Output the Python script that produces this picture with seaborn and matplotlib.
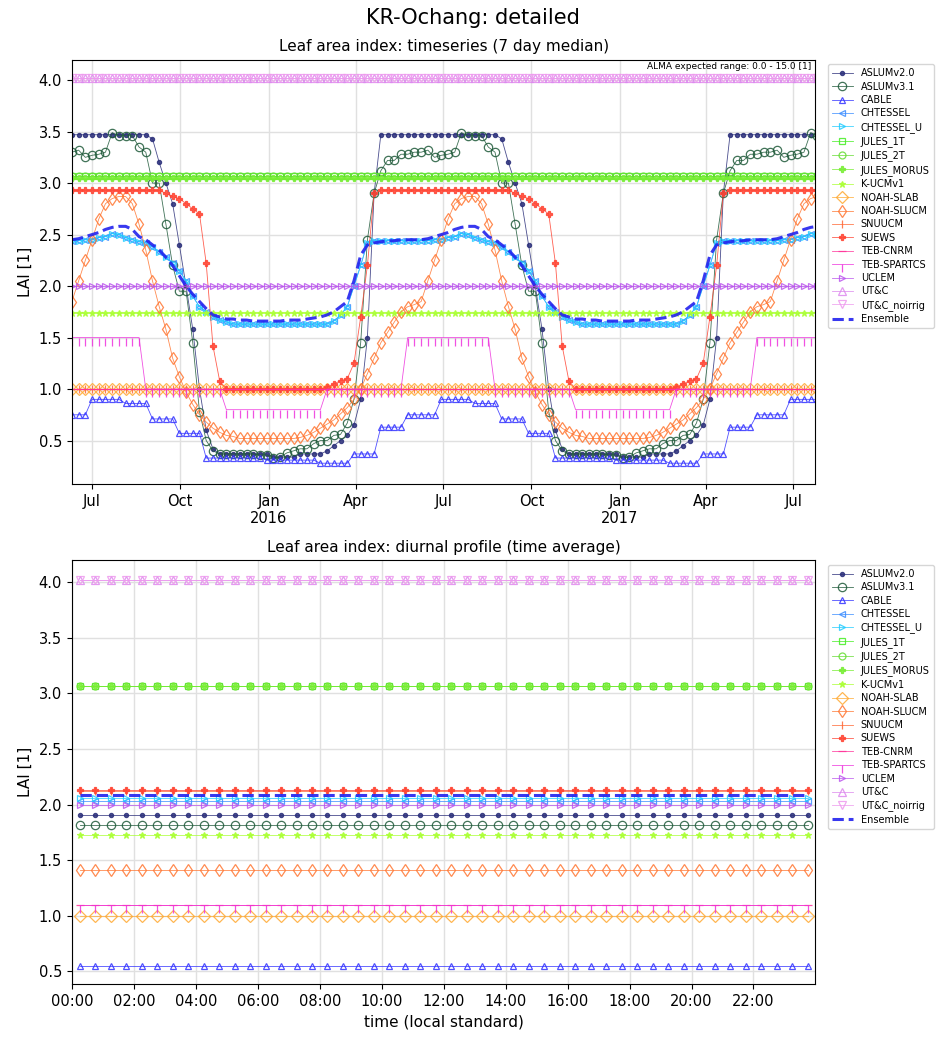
import numpy as np
import pandas as pd
import seaborn as sns
import matplotlib
matplotlib.use('Agg')
import matplotlib.pyplot as plt
import matplotlib.dates as mdates

# weekly annual cycle, week 0 = 10 June, repeated each year
aslum20 = [3.47]*12 + [3.43, 3.2, 3.0, 2.8, 2.4, 2.0, 1.58, 1.0, 0.6, 0.42] + [0.37]*8 + \
          [0.34]*4 + [0.37]*4 + [0.4, 0.45, 0.5, 0.55, 0.65, 0.9, 1.5, 2.9] + [3.47]*6
aslum31 = [3.30, 3.32, 3.25, 3.27, 3.28, 3.30, 3.49, 3.46, 3.46, 3.46, 3.35, 3.30, 3.0, 3.0,
           2.6, 2.2, 1.95, 1.95, 1.45, 0.78, 0.5, 0.4, 0.37, 0.37, 0.37, 0.37, 0.37, 0.37,
           0.36, 0.36, 0.33, 0.34, 0.38, 0.4, 0.42, 0.42, 0.47, 0.5, 0.5, 0.55, 0.56, 0.67,
           0.9, 1.45, 2.45, 2.9, 3.12, 3.22, 3.22, 3.28, 3.28, 3.3]
cable = [0.75]*3 + [0.9]*5 + [0.86]*4 + [0.71]*4 + [0.57]*4 + [0.33]*9 + [0.31]*8 + \
        [0.28]*5 + [0.37]*4 + [0.63]*4 + [0.75]*2
chtessel = [2.44, 2.44, 2.45, 2.45, 2.47, 2.48, 2.51, 2.5, 2.47, 2.45, 2.43, 2.42, 2.38, 2.33,
            2.28, 2.22, 2.15, 2.05, 1.9, 1.8, 1.75, 1.7, 1.67, 1.65] + [1.63]*15 + \
           [1.66, 1.72, 1.8, 2.0, 2.2, 2.42] + [2.44]*7
ensemble = [2.45, 2.46, 2.48, 2.5, 2.52, 2.55, 2.57, 2.58, 2.58, 2.55, 2.48, 2.45, 2.4, 2.35,
            2.28, 2.2, 2.1, 2.0, 1.92, 1.85, 1.78, 1.72, 1.7, 1.68, 1.68, 1.67, 1.67, 1.66,
            1.66, 1.66, 1.66, 1.66, 1.67, 1.67, 1.67, 1.68, 1.69, 1.7, 1.72, 1.75, 1.8, 1.85,
            2.05, 2.3, 2.4, 2.42, 2.43, 2.44, 2.44, 2.45, 2.45, 2.45]
noah_slucm = [1.85, 2.05, 2.25, 2.45, 2.65, 2.8, 2.85, 2.87, 2.87, 2.8, 2.6, 2.35, 2.05, 1.8,
              1.58, 1.3, 1.12, 0.97, 0.85, 0.75, 0.68, 0.62, 0.58, 0.55, 0.54] + [0.52]*9 + \
             [0.53, 0.55, 0.58, 0.62, 0.66, 0.7, 0.76, 0.82, 0.9, 1.0, 1.15, 1.3, 1.45, 1.55,
              1.65, 1.75, 1.8, 1.82]
suews = [2.93]*14 + [2.9, 2.87, 2.85, 2.8, 2.75, 2.7, 2.22, 1.42, 1.08] + [1.0]*15 + \
        [1.02, 1.05, 1.08, 1.1, 1.25, 1.7, 2.2, 2.9] + [2.93]*6
teb_spartcs = [1.5]*11 + [1.0]*12 + [0.8]*15 + [1.0]*12 + [1.5]*2

# constant models (time series)
jules_1t, jules_2t, jules_morus = 3.07, 3.07, 3.05
kucm, noah_slab, snuucm, teb_cnrm = 1.74, 1.0, 1.0, 1.0
uclem, utc, utc_noirrig = 2.0, 4.02, 4.02

# diurnal averages
d_vals = {'ASLUMv2.0': 1.91, 'ASLUMv3.1': 1.82, 'CABLE': 0.55, 'CHTESSEL': 2.03,
          'CHTESSEL_U': 2.06, 'JULES_1T': 3.07, 'JULES_2T': 3.07, 'JULES_MORUS': 3.07,
          'K-UCMv1': 1.73, 'NOAH-SLAB': 1.0, 'NOAH-SLUCM': 1.41, 'SNUUCM': 2.12,
          'SUEWS': 2.13, 'TEB-CNRM': 1.1, 'TEB-SPARTCS': 1.1, 'UCLEM': 2.0,
          'UT&C': 4.02, 'UT&C_noirrig': 4.02, 'Ensemble': 2.09}

styles = {
    'ASLUMv2.0': ('#2b2f7a', 'o', 3),
    'ASLUMv3.1': ('#1f5a3a', 'o', 6),
    'CABLE': ('#3333ff', '^', 5),
    'CHTESSEL': ('#3a8cff', '<', 5),
    'CHTESSEL_U': ('#22ccff', '>', 5),
    'JULES_1T': ('#44ee22', 's', 5),
    'JULES_2T': ('#66dd33', 'o', 5),
    'JULES_MORUS': ('#77ee33', 'P', 5),
    'K-UCMv1': ('#aaff33', '*', 5),
    'NOAH-SLAB': ('#ffaa33', 'D', 6),
    'NOAH-SLUCM': ('#ff7733', 'd', 6),
    'SNUUCM': ('#ff6633', '|', 6),
    'SUEWS': ('#ff4433', 'P', 5),
    'TEB-CNRM': ('#ff3399', '_', 6),
    'TEB-SPARTCS': ('#ee33dd', 3, 6),
    'UCLEM': ('#bb55ee', '>', 4),
    'UT&C': ('#dd88ee', '^', 6),
    'UT&C_noirrig': ('#ee99ee', 'v', 6),
}
filled = ('SUEWS', 'JULES_MORUS', 'K-UCMv1', 'ASLUMv2.0')

n = 112
dates = pd.date_range('2015-06-10', periods=n, freq='7D')
def cyc(v):
    if np.isscalar(v):
        return np.full(n, v)
    return np.tile(v, 3)[:n]

ts = {'ASLUMv2.0': aslum20, 'ASLUMv3.1': aslum31, 'CABLE': cable, 'CHTESSEL': chtessel,
      'CHTESSEL_U': chtessel, 'JULES_1T': jules_1t, 'JULES_2T': jules_2t,
      'JULES_MORUS': jules_morus, 'K-UCMv1': kucm, 'NOAH-SLAB': noah_slab,
      'NOAH-SLUCM': noah_slucm, 'SNUUCM': snuucm, 'SUEWS': suews, 'TEB-CNRM': teb_cnrm,
      'TEB-SPARTCS': teb_spartcs, 'UCLEM': uclem, 'UT&C': utc, 'UT&C_noirrig': utc_noirrig}

plt.rcParams['font.family'] = ['DejaVu Sans']
fig, (ax1, ax2) = plt.subplots(2, 1, figsize=(9.46, 10.44), dpi=100)
fig.subplots_adjust(left=0.076, right=0.862, top=0.943, bottom=0.057, hspace=0.18)
hours = np.arange(0.25, 24, 0.5)

def style_last(ax, col, mk, ms, fill):
    ln = ax.lines[-1]
    ln.set_marker(mk)
    ln.set_markersize(ms)
    ln.set_markeredgecolor(col)
    ln.set_markeredgewidth(0.9)
    ln.set_markerfacecolor(col if fill else 'none')
    ln.set_linewidth(0.6)
    ln.set_alpha(0.85)

for name, (col, mk, ms) in styles.items():
    sns.lineplot(x=dates, y=cyc(ts[name]), ax=ax1, color=col, label=name)
    style_last(ax1, col, mk, ms, name in filled)
    sns.lineplot(x=hours, y=np.full(len(hours), d_vals[name]), ax=ax2, color=col, label=name)
    style_last(ax2, col, mk, ms, name in filled)

sns.lineplot(x=dates, y=cyc(ensemble), ax=ax1, color='#2222ee', linestyle='--',
             linewidth=2.2, alpha=0.9, label='Ensemble')
sns.lineplot(x=hours, y=np.full(len(hours), d_vals['Ensemble']), ax=ax2, color='#2222ee',
             linestyle='--', linewidth=2.2, alpha=0.9, label='Ensemble')

ax1.set_xlim(pd.Timestamp('2015-06-10'), pd.Timestamp('2017-07-24'))
ax1.set_ylim(0.08, 4.2)
ax1.xaxis.set_major_locator(mdates.MonthLocator(bymonth=[1, 4, 7, 10]))
ax1.xaxis.set_major_formatter(plt.FuncFormatter(
    lambda v, p: mdates.num2date(v).strftime('%b\n%Y') if mdates.num2date(v).month == 1
    else mdates.num2date(v).strftime('%b')))
ax1.set_title('Leaf area index: timeseries (7 day median)', fontsize=11)
ax1.set_ylabel('LAI [1]', fontsize=11)
ax1.set_xlabel('')
ax1.text(0.995, 0.993, 'ALMA expected range: 0.0 - 15.0 [1]', transform=ax1.transAxes,
         ha='right', va='top', fontsize=6.5)

ax2.set_xlim(0, 24)
ax2.set_ylim(0.38, 4.2)
ax2.set_xticks(np.arange(0, 24, 2))
ax2.set_xticklabels([f'{h:02d}:00' for h in range(0, 24, 2)])
ax2.set_title('Leaf area index: diurnal profile (time average)', fontsize=11)
ax2.set_ylabel('LAI [1]', fontsize=11)
ax2.set_xlabel('time (local standard)', fontsize=11)

for ax in (ax1, ax2):
    ax.grid(True, color='#e0e0e0', linewidth=1)
    ax.set_axisbelow(True)
    ax.tick_params(labelsize=10.5)
    ax.legend(loc='upper left', bbox_to_anchor=(1.01, 1.0), fontsize=7, frameon=True,
              handlelength=2.2, labelspacing=0.35)

fig.suptitle('KR-Ochang: detailed', fontsize=15, y=0.992)
fig.savefig('out.png', dpi=100)
